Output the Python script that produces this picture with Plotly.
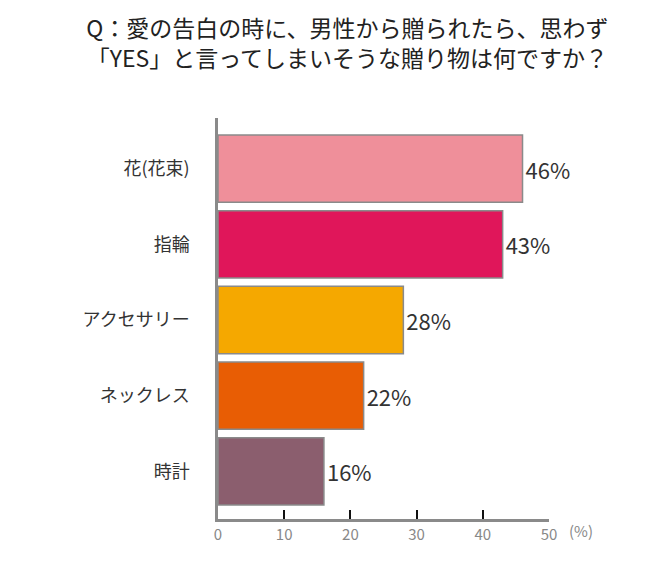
import plotly.graph_objects as go

categories = ["花(花束)", "指輪", "アクセサリー", "ネックレス", "時計"]
values = [46, 43, 28, 22, 16]
colors = ["#ef8f9a", "#e0165a", "#f5a800", "#e85d04", "#8b5e6e"]
xticks = [0, 10, 20, 30, 40, 50]

F = "Noto Sans CJK JP"
pos = list(range(len(categories)))
fig = go.Figure(go.Bar(
    x=values, y=pos, orientation="h", width=0.89,
    marker=dict(color=colors, line=dict(color="#8a8a8a", width=1.5)),
    text=[f"{v}%" for v in values], textposition="outside",
    textfont=dict(family=F, size=22, color="#333"), cliponaxis=False,
))
fig.update_layout(
    width=659, height=575, plot_bgcolor="white", paper_bgcolor="white",
    margin=dict(l=210, r=118, t=110, b=64), showlegend=False,
    title=dict(text="Q：愛の告白の時に、男性から贈られたら、思わず<br>「YES」と言ってしまいそうな贈り物は何ですか？",
               x=0.515, xanchor="center", y=0.95, yanchor="top",
               font=dict(family=F, size=23, color="#222")),
    xaxis=dict(range=[0, 50], tickvals=xticks, ticks="inside", ticklen=9, tickwidth=2,
               tickcolor="#111", showline=True, linecolor="#8a8a8a", linewidth=2.5,
               showgrid=False, zeroline=False, tickfont=dict(family=F, size=15, color="#888")),
    yaxis=dict(range=[4.63, -0.67], tickvals=pos, ticktext=categories, showline=True,
               linecolor="#8a8a8a", linewidth=2.5, showgrid=False, zeroline=False,
               ticks="", ticklabelstandoff=22, tickfont=dict(family=F, size=18, color="#333")),
    annotations=[dict(text="(%)", x=50, y=0, xref="x", yref="paper", xshift=32, yshift=-24,
                      showarrow=False, font=dict(family=F, size=15, color="#888"))],
)
fig.write_html("out.html")
